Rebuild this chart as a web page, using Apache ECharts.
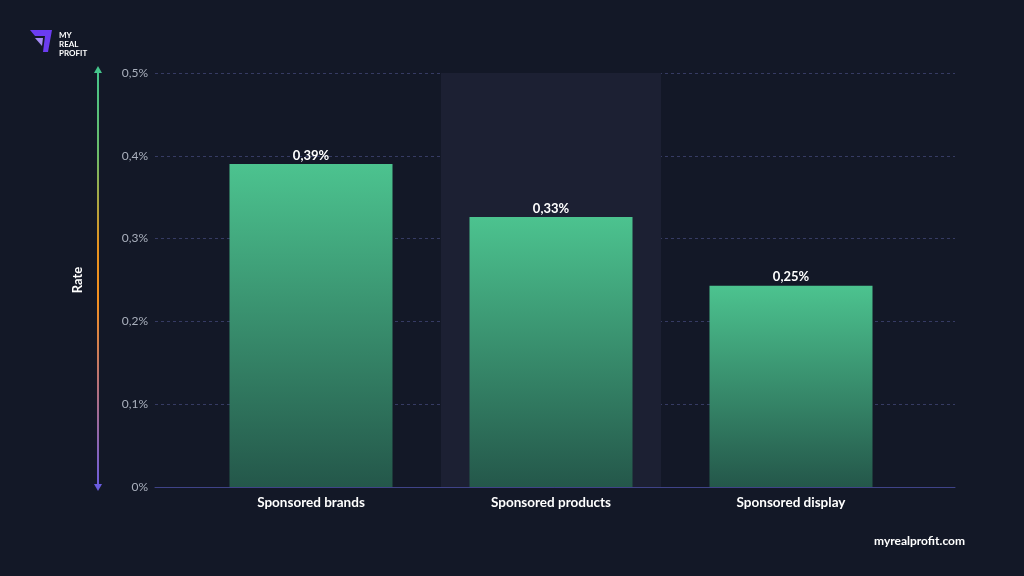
<!DOCTYPE html>
<html>
<head>
<meta charset="utf-8">
<script src="https://cdn.jsdelivr.net/npm/echarts@6/dist/echarts.min.js"></script>
<style>
  html, body { margin: 0; padding: 0; background: #131827; }
  #chart { width: 1024px; height: 576px; }
</style>
</head>
<body>
<div id="chart"></div>
<script>
// data
const categories = ['Sponsored brands', 'Sponsored products', 'Sponsored display']
const rateValues = [0.39, 0.326, 0.243]
const rateLabels = ['0,39%', '0,33%', '0,25%']
const highlightValues = [null, 0.5, null]
const yTicks = [0, 0.1, 0.2, 0.3, 0.4, 0.5]

const fmtTick = (v) => {
    if (v === 0) return '0%'
    return v.toFixed(1).replace('.', ',') + '%'
}

const charts = echarts.init(document.getElementById('chart'))

let option = {
    backgroundColor: '#131827',
    animation: false,
    textStyle: { fontFamily: 'Lato' },
    graphic: [
        // logo mark
        {
            type: 'polygon', left: 30, top: 30,
            shape: { points: [[0, 0], [22, 0], [18, 22], [13, 22], [15, 6], [5, 6]] },
            style: { fill: '#6b3cf0' }
        },
        {
            type: 'polygon', left: 35, top: 38,
            shape: { points: [[0, 0], [8, 0], [7, 8]] },
            style: { fill: '#a58bf5' }
        },
        {
            type: 'text', left: 59, top: 31,
            style: { text: 'MY\nREAL\nPROFIT', fill: '#ffffff', font: 'bold 8px Lato', lineHeight: 9 }
        },
        {
            type: 'text', right: 59, top: 535,
            style: { text: 'myrealprofit.com', fill: '#ffffff', font: 'bold 12px Lato' }
        },
        // arrow heads of the rate axis
        {
            type: 'polygon', left: 94, top: 66, z: 10,
            shape: { points: [[4, 0], [8, 7], [0, 7]] },
            style: { fill: '#45c48b' }
        },
        {
            type: 'polygon', left: 94, top: 484, z: 10,
            shape: { points: [[0, 0], [8, 0], [4, 7]] },
            style: { fill: '#6a5ce0' }
        }
    ],
    grid: [
        { left: 155, right: 69, top: 73, bottom: 89 },
        { left: 191, right: 113, top: 73, bottom: 89 }
    ],
    xAxis: [
        {
            gridIndex: 0, type: 'value', min: 0, max: 1,
            axisLine: { show: true, onZero: false, lineStyle: { color: '#3f4388', width: 1 } },
            axisTick: { show: false }, axisLabel: { show: false }, splitLine: { show: false }
        },
        {
            gridIndex: 1, type: 'category', data: categories,
            axisLine: { show: false }, axisTick: { show: false },
            axisLabel: { color: '#ffffff', fontSize: 13.5, fontWeight: 'bold', margin: 9 }
        },
        {
            gridIndex: 1, type: 'category', data: categories, show: false
        }
    ],
    yAxis: [
        {
            gridIndex: 0, type: 'value', min: 0, max: 0.5, interval: 0.1,
            axisLine: { show: false }, axisTick: { show: false },
            axisLabel: { color: '#aab0bd', fontSize: 12, margin: 7, formatter: fmtTick },
            splitLine: { lineStyle: { color: '#363b63', type: [3, 3], width: 1 } }
        },
        {
            gridIndex: 0, type: 'value', min: 0, max: 0.5, interval: 0.1,
            position: 'left', offset: 57,
            name: 'Rate', nameLocation: 'middle', nameRotate: 90, nameGap: 14,
            nameTextStyle: { color: '#ffffff', fontSize: 13, fontWeight: 'bold' },
            axisLine: {
                show: true,
                lineStyle: {
                    width: 2,
                    color: new echarts.graphic.LinearGradient(0, 0, 0, 1, [
                        { offset: 0, color: '#45c48b' },
                        { offset: 0.2, color: '#6cbc6a' },
                        { offset: 0.42, color: '#e8921e' },
                        { offset: 0.55, color: '#f59020' },
                        { offset: 0.75, color: '#b8727a' },
                        { offset: 1, color: '#6a5ce0' }
                    ])
                }
            },
            axisTick: { show: false }, axisLabel: { show: false }, splitLine: { show: false }
        },
        {
            gridIndex: 1, type: 'value', min: 0, max: 0.5, show: false
        }
    ],
    series: [
        {
            name: 'highlight',
            type: 'bar',
            xAxisIndex: 2, yAxisIndex: 2,
            barWidth: 220,
            z: 1,
            silent: true,
            itemStyle: { color: '#1c2033' },
            data: highlightValues
        },
        {
            name: 'Rate',
            type: 'bar',
            xAxisIndex: 1, yAxisIndex: 2,
            barWidth: 163,
            z: 3,
            itemStyle: {
                color: new echarts.graphic.LinearGradient(0, 0, 0, 1, [
                    { offset: 0, color: '#4cc38f' },
                    { offset: 1, color: '#24574a' }
                ])
            },
            label: {
                show: true, position: 'top', distance: 2,
                color: '#ffffff', fontSize: 13, fontWeight: 'bold',
                formatter: (p) => rateLabels[p.dataIndex]
            },
            data: rateValues
        }
    ]
}
charts.setOption(option)
</script>
</body>
</html>
